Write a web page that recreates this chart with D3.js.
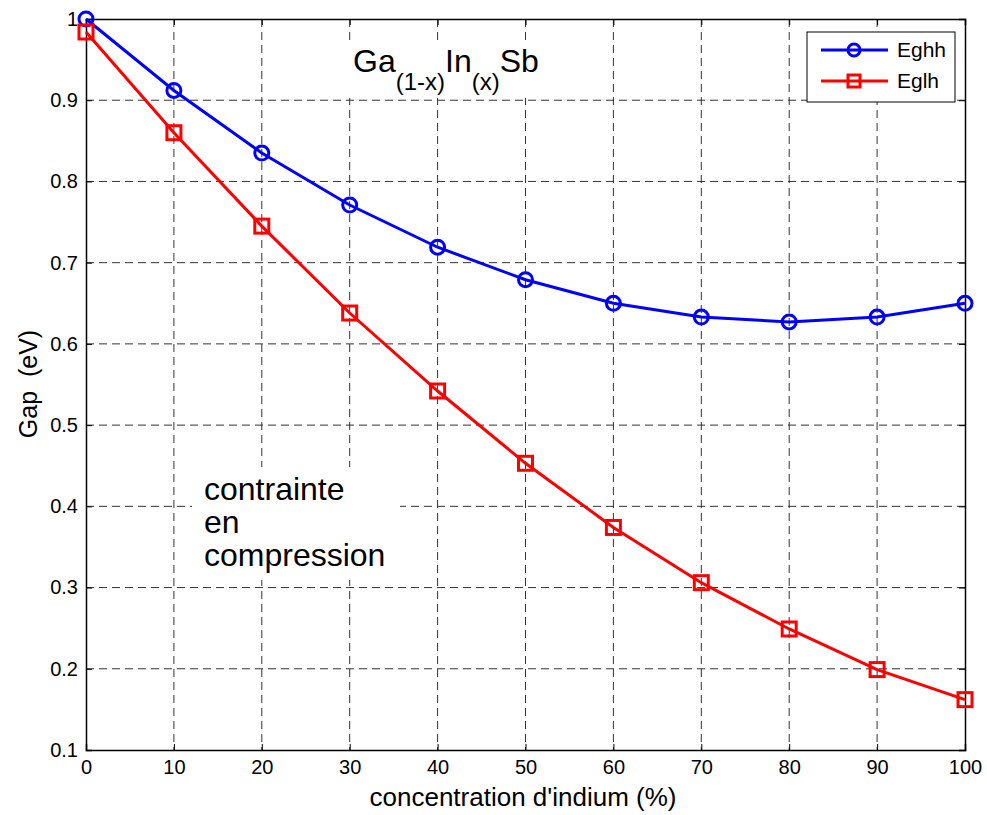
<!DOCTYPE html>
<html>
<head>
<meta charset="utf-8">
<script src="https://cdn.jsdelivr.net/npm/d3@7"></script>
<style>
body { margin: 0; background: #fff; }
text { font-family: "Liberation Sans", Arial, sans-serif; fill: #000; }
</style>
</head>
<body>
<div id="c"></div>
<script>
var conc = [0, 10, 20, 30, 40, 50, 60, 70, 80, 90, 100];
var eghh = [1.0, 0.912, 0.835, 0.771, 0.719, 0.679, 0.650, 0.633, 0.627, 0.633, 0.650];
var eglh = [0.984, 0.860, 0.745, 0.638, 0.542, 0.453, 0.374, 0.306, 0.249, 0.199, 0.162];
var x_ticks = [0, 10, 20, 30, 40, 50, 60, 70, 80, 90, 100];
var y_ticks = [0.1, 0.2, 0.3, 0.4, 0.5, 0.6, 0.7, 0.8, 0.9, 1];

var width = 987, height = 815;
var p_left = 86, p_right = 965, p_top = 19, p_bottom = 750;

var svg = d3.select("#c").append("svg")
	.attr("width", width)
	.attr("height", height);

var x_scale = d3.scaleLinear().domain([0, 100]).range([p_left, p_right]);
var y_scale = d3.scaleLinear().domain([0.1, 1]).range([p_bottom, p_top]);

// grid
svg.append("g").selectAll("line")
	.data(x_ticks.slice(1, -1))
	.enter().append("line")
	.attr("x1", function(d) { return x_scale(d); })
	.attr("x2", function(d) { return x_scale(d); })
	.attr("y1", p_top).attr("y2", p_bottom)
	.attr("stroke", "#333").attr("stroke-width", 1)
	.attr("stroke-dasharray", "8,5");

svg.append("g").selectAll("line")
	.data(y_ticks.slice(1, -1))
	.enter().append("line")
	.attr("y1", function(d) { return y_scale(d); })
	.attr("y2", function(d) { return y_scale(d); })
	.attr("x1", p_left).attr("x2", p_right)
	.attr("stroke", "#333").attr("stroke-width", 1)
	.attr("stroke-dasharray", "8,5");

// axes
var xa = svg.append("g")
	.attr("transform", "translate(0," + p_bottom + ")")
	.call(d3.axisBottom(x_scale).tickValues(x_ticks).tickSize(-6).tickPadding(10).tickFormat(d3.format("d")));
var xt = svg.append("g")
	.attr("transform", "translate(0," + p_top + ")")
	.call(d3.axisTop(x_scale).tickValues(x_ticks).tickSize(-6).tickFormat(""));
var ya = svg.append("g")
	.attr("transform", "translate(" + p_left + ",0)")
	.call(d3.axisLeft(y_scale).tickValues(y_ticks).tickSize(-6).tickPadding(8).tickFormat(function(d) { return d === 1 ? "1" : d3.format(".1f")(d); }));
var yr = svg.append("g")
	.attr("transform", "translate(" + p_right + ",0)")
	.call(d3.axisRight(y_scale).tickValues(y_ticks).tickSize(-6).tickFormat(""));

[xa, xt, ya, yr].forEach(function(g) {
	g.attr("font-size", 20).attr("font-family", "'Liberation Sans', Arial, sans-serif");
	g.selectAll("path").attr("stroke", "#000").attr("stroke-width", 1.5);
	g.selectAll("line").attr("stroke", "#000");
	g.selectAll("text").attr("fill", "#000");
});

// axis labels
svg.append("text")
	.attr("x", 523).attr("y", 806)
	.attr("text-anchor", "middle")
	.attr("font-size", 26)
	.text("concentration d'indium (%)");

svg.append("text")
	.attr("transform", "translate(37,384) rotate(-90)")
	.attr("text-anchor", "middle")
	.attr("font-size", 25)
	.style("white-space", "pre")
	.text("Gap  (eV)");

// annotations with white boxes
svg.append("rect").attr("x", 349).attr("y", 40).attr("width", 190).attr("height", 58).attr("fill", "#fff");
var title = svg.append("text").attr("x", 353).attr("y", 72).attr("font-size", 32);
title.append("tspan").text("Ga");
title.append("tspan").attr("dy", 18).attr("font-size", 24).text("(1-x)");
title.append("tspan").attr("dy", -18).text("In");
title.append("tspan").attr("dy", 18).attr("font-size", 24).text("(x)");
title.append("tspan").attr("dy", -18).text("Sb");

svg.append("rect").attr("x", 192).attr("y", 467).attr("width", 208).attr("height", 113).attr("fill", "#fff");
var annot = ["contrainte", "en", "compression"];
svg.append("g").selectAll("text")
	.data(annot)
	.enter().append("text")
	.attr("x", 204)
	.attr("y", function(d, i) { return 500 + i * 33; })
	.attr("font-size", 32)
	.text(function(d) { return d; });

// lines
var line_gen = d3.line()
	.x(function(d) { return x_scale(d[0]); })
	.y(function(d) { return y_scale(d[1]); });

var s1 = conc.map(function(c, i) { return [c, eghh[i]]; });
var s2 = conc.map(function(c, i) { return [c, eglh[i]]; });

svg.append("path").datum(s1)
	.attr("d", line_gen).attr("fill", "none")
	.attr("stroke", "#0000ff").attr("stroke-width", 3);
svg.append("path").datum(s2)
	.attr("d", line_gen).attr("fill", "none")
	.attr("stroke", "#ff0000").attr("stroke-width", 3);

svg.append("g").selectAll("circle")
	.data(s1).enter().append("circle")
	.attr("cx", function(d) { return x_scale(d[0]); })
	.attr("cy", function(d) { return y_scale(d[1]); })
	.attr("r", 7)
	.attr("fill", "none").attr("stroke", "#0000ff").attr("stroke-width", 3);

svg.append("g").selectAll("rect")
	.data(s2).enter().append("rect")
	.attr("x", function(d) { return x_scale(d[0]) - 7; })
	.attr("y", function(d) { return y_scale(d[1]) - 7; })
	.attr("width", 14).attr("height", 14)
	.attr("fill", "none").attr("stroke", "#ff0000").attr("stroke-width", 3);

// legend
var lg = svg.append("g");
lg.append("rect").attr("x", 807).attr("y", 32).attr("width", 148).attr("height", 70)
	.attr("fill", "#fff").attr("stroke", "#000").attr("stroke-width", 1);
var leg = [{name: "Eghh", color: "#0000ff", y: 50}, {name: "Eglh", color: "#ff0000", y: 81}];
leg.forEach(function(l, i) {
	lg.append("line").attr("x1", 821).attr("x2", 888).attr("y1", l.y).attr("y2", l.y)
		.attr("stroke", l.color).attr("stroke-width", 3);
	if (i === 0) {
		lg.append("circle").attr("cx", 854).attr("cy", l.y).attr("r", 6)
			.attr("fill", "none").attr("stroke", l.color).attr("stroke-width", 3);
	} else {
		lg.append("rect").attr("x", 848).attr("y", l.y - 6).attr("width", 12).attr("height", 12)
			.attr("fill", "none").attr("stroke", l.color).attr("stroke-width", 3);
	}
	lg.append("text").attr("x", 897).attr("y", l.y + 7).attr("font-size", 21).text(l.name);
});
</script>
</body>
</html>
